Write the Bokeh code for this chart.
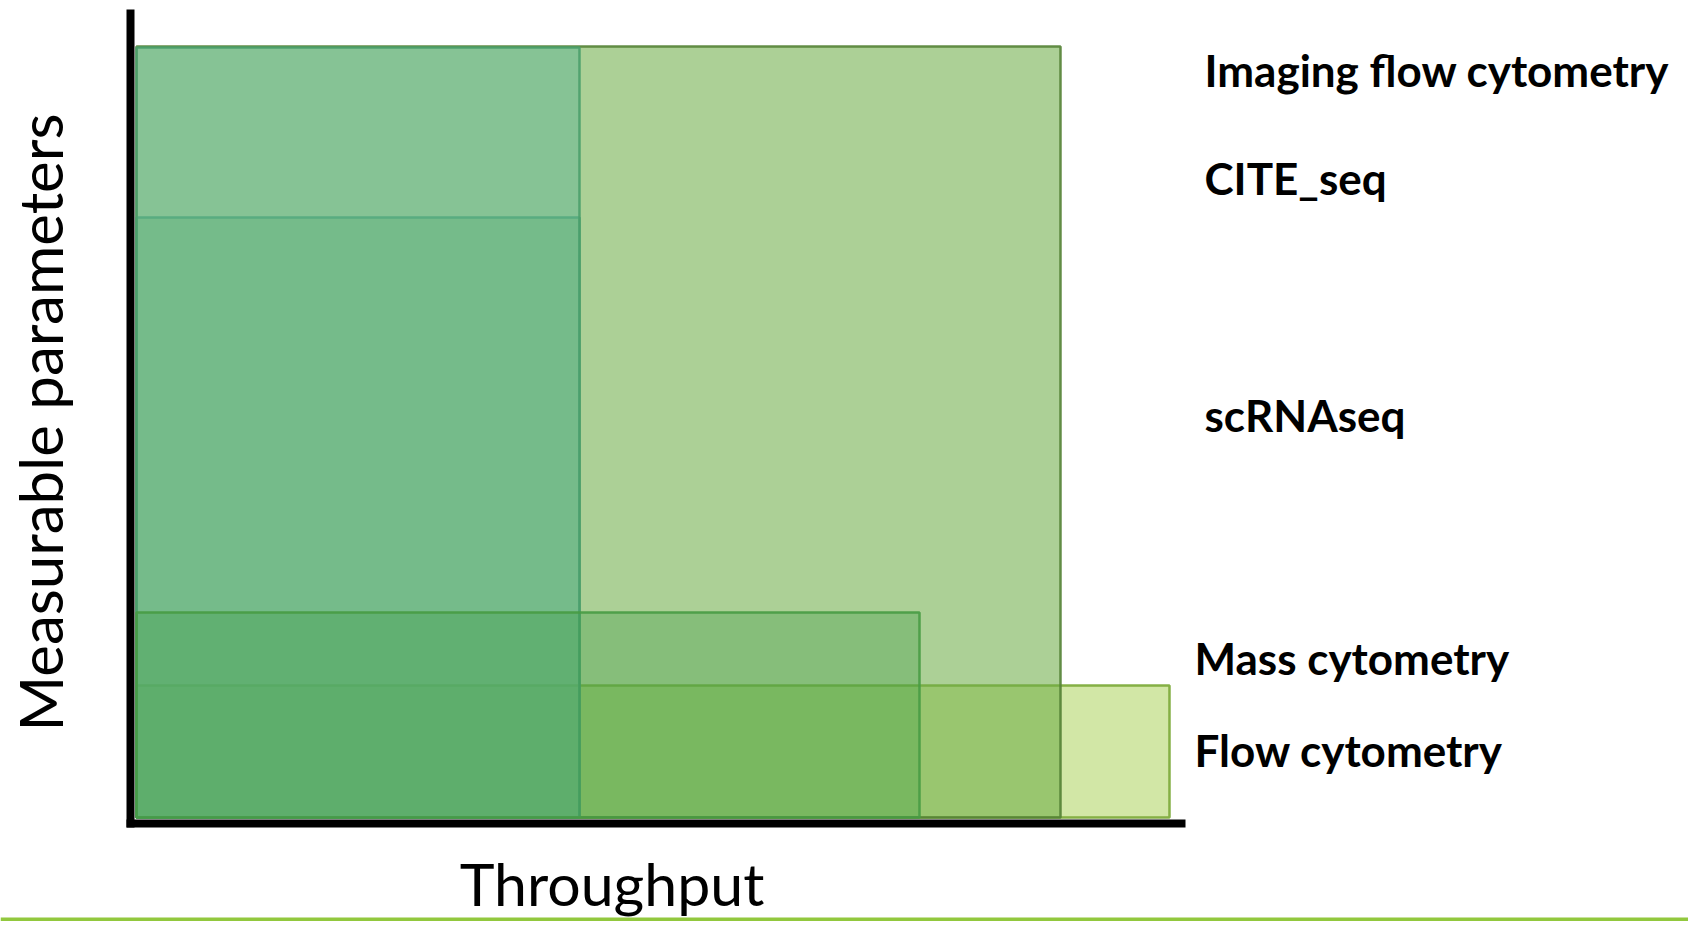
import math
from bokeh.plotting import figure
from bokeh.models import ColumnDataSource, Range1d, FixedTicker, LinearAxis, Span
from bokeh.embed import file_html
from bokeh.resources import INLINE
from bokeh.core.properties import value

# ---- data (arbitrary units) ----
methods = ["Imaging flow cytometry", "CITE_seq", "scRNAseq", "Mass cytometry", "Flow cytometry"]
throughput = [9.24, 4.43, 4.43, 7.83, 10.33]
parameters = [7.71, 7.70, 6.00, 2.05, 1.32]

# ---- styles ----
draw_order = ["Flow cytometry", "Imaging flow cytometry", "scRNAseq", "CITE_seq", "Mass cytometry"]
fill = {
    "Flow cytometry": ("#a5cf4d", 0.50),
    "Imaging flow cytometry": ("#6dac46", 0.57),
    "scRNAseq": ("#68b06a", 0.50),
    "CITE_seq": ("#60b694", 0.50),
    "Mass cytometry": ("#399a44", 0.33),
}
edge = {
    "Flow cytometry": "#7aa835",
    "Imaging flow cytometry": "#548235",
    "scRNAseq": "#4a9e6a",
    "CITE_seq": "#4a9e6a",
    "Mass cytometry": "#479b44",
}

W, H = 1688, 921
p = figure(width=W, height=H, output_backend="svg", toolbar_location=None,
           x_range=Range1d(-1.36, 15.52), y_range=Range1d(-1.04, 8.17),
           x_axis_type=None, y_axis_type=None, min_border=0)
p.grid.visible = False
p.outline_line_color = None
p.background_fill_color = "white"
p.border_fill_color = "white"

def make_axis(loc, bounds):
    return LinearAxis(fixed_location=loc, bounds=bounds, ticker=FixedTicker(ticks=[]),
                      major_tick_line_color=None, minor_tick_line_color=None,
                      major_label_text_alpha=0, axis_line_color="black", axis_line_width=8)

p.add_layout(make_axis(-0.06, (-0.10, 10.49)), "below")
p.add_layout(make_axis(-0.06, (-0.10, 8.08)), "left")

for name in draw_order:
    i = methods.index(name)
    src = ColumnDataSource(dict(left=[0], right=[throughput[i]], bottom=[0], top=[parameters[i]]))
    fc, fa = fill[name]
    p.quad(left="left", right="right", bottom="bottom", top="top", source=src,
           fill_color=fc, fill_alpha=fa, line_color=edge[name], line_width=2.5, line_alpha=0.9)

# side labels
label_x = [10.68, 10.68, 10.68, 10.58, 10.58]
label_y = [7.48, 6.40, 4.03, 1.60, 0.68]
lsrc = ColumnDataSource(dict(x=label_x, y=label_y, text=methods))
p.text(x="x", y="y", text="text", source=lsrc,
       text_font=value("Lato"), text_font_style="bold",
       text_font_size="44px", text_color="black",
       text_align="left", text_baseline="middle")

# axis titles
p.text(x=[4.755], y=[-0.66], text=["Throughput"], text_font=value("Lato"),
       text_font_size="59px", text_align="center", text_baseline="middle",
       text_color="black")
p.text(x=[-0.97], y=[3.95], text=["Measurable parameters"], text_font=value("Lato"),
       text_font_size="60px", text_align="center", text_baseline="middle",
       angle=math.pi / 2, text_color="black")

# green rule along the bottom edge of the slide
p.add_layout(Span(location=-1.02, dimension="width", line_color="#92c83e", line_width=4))

open("out.html", "w").write(file_html(p, INLINE))
